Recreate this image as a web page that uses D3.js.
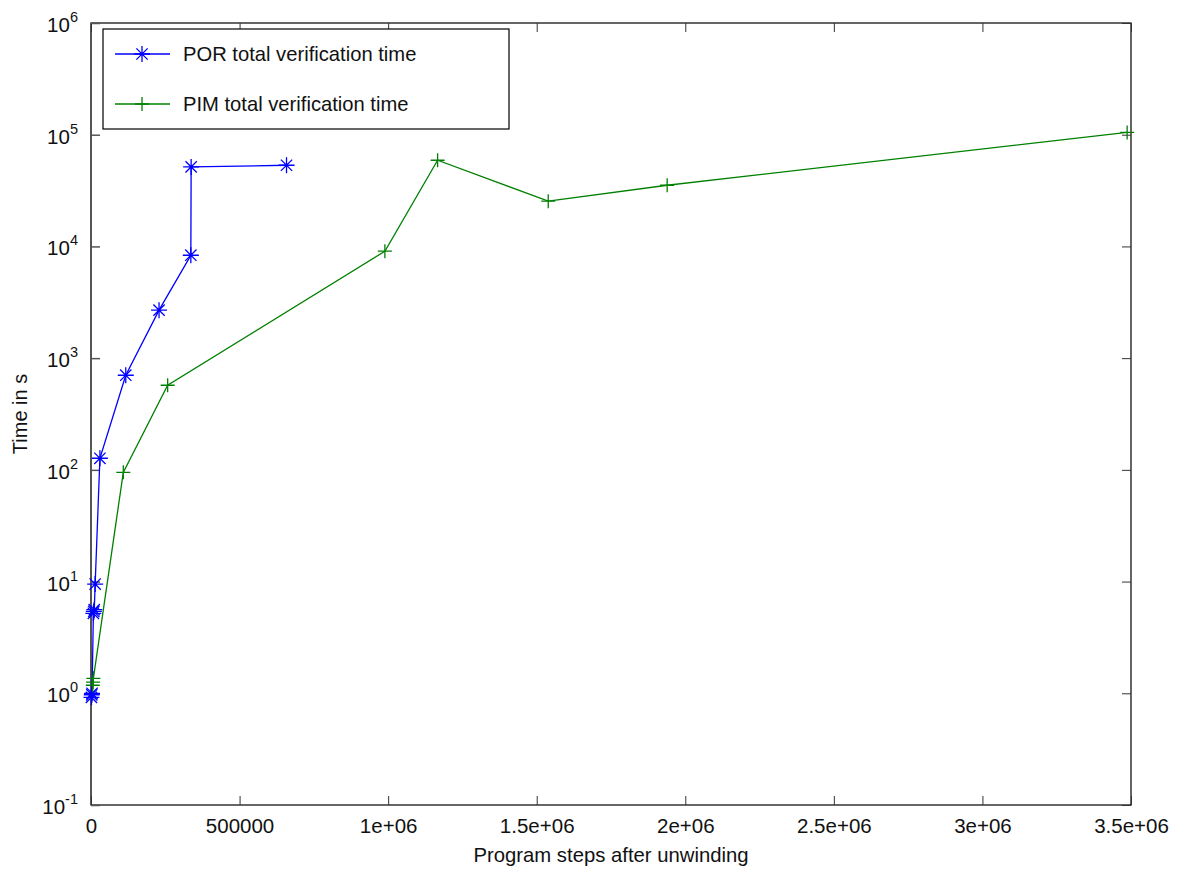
<!DOCTYPE html>
<html>
<head>
<meta charset="utf-8">
<script src="https://cdn.jsdelivr.net/npm/d3@7"></script>
<style>
  html, body { margin: 0; padding: 0; background: #fff; }
  svg { display: block; font-family: "Liberation Sans", Arial, Helvetica, sans-serif; }
</style>
</head>
<body>
<svg id="chart" width="1181" height="872"></svg>
<script>
// Program steps (after unwinding) and total verification time in seconds
const porSteps = [1500, 2500, 3500, 8000, 9500, 11000, 14000, 30000, 117000, 229000, 336000, 337000, 658000];
const porTime  = [0.92, 0.97, 1.0, 5.2, 5.4, 5.6, 9.5, 127, 703, 2690, 8340, 51500, 53300];

const pimSteps = [6000, 7000, 8000, 108700, 258000, 989000, 1166500, 1538800, 1939000, 3487000];
const pimTime  = [1.18, 1.26, 1.36, 95, 572, 9060, 59100, 25400, 35300, 104800];

const xTicks = [0, 500000, 1000000, 1500000, 2000000, 2500000, 3000000, 3500000];
const xTickLabels = ["0", "500000", "1e+06", "1.5e+06", "2e+06", "2.5e+06", "3e+06", "3.5e+06"];
const yExponents = [-1, 0, 1, 2, 3, 4, 5, 6];

const seriesNames = ["POR total verification time", "PIM total verification time"];

const svg = d3.select("#chart");
const plotLeft = 91, plotRight = 1131, plotTop = 23, plotBottom = 805;

const x = d3.scaleLinear().domain([0, 3500000]).range([plotLeft, plotRight]);
const y = d3.scaleLog().domain([0.1, 1e6]).range([plotBottom, plotTop]);

const tickLen = 9;
const fontSize = 20.5;
const textColor = "#111";

// frame
svg.append("rect")
  .attr("x", plotLeft).attr("y", plotTop)
  .attr("width", plotRight - plotLeft).attr("height", plotBottom - plotTop)
  .attr("fill", "none").attr("stroke", "#000").attr("stroke-width", 1.2);
svg.append("line")
  .attr("x1", plotLeft).attr("x2", plotLeft).attr("y1", plotTop).attr("y2", plotBottom)
  .attr("stroke", "#555").attr("stroke-width", 2);

// x ticks (bottom and mirrored top), pointing inward
const xAxisBottom = d3.axisBottom(x).tickValues(xTicks).tickSize(-tickLen).tickFormat((d, i) => xTickLabels[i]);
const gxb = svg.append("g").attr("transform", `translate(0,${plotBottom})`).call(xAxisBottom);
gxb.select(".domain").remove();
gxb.selectAll(".tick line").attr("stroke", "#333");
gxb.selectAll(".tick text")
  .attr("y", 28).attr("dy", 0)
  .attr("font-size", fontSize).attr("fill", textColor)
  .attr("font-family", "Liberation Sans, Arial, sans-serif");

const xAxisTop = d3.axisTop(x).tickValues(xTicks).tickSize(-tickLen).tickFormat("");
const gxt = svg.append("g").attr("transform", `translate(0,${plotTop})`).call(xAxisTop);
gxt.select(".domain").remove();
gxt.selectAll(".tick line").attr("stroke", "#333");

// y ticks (left and mirrored right), pointing inward
const yVals = yExponents.map(e => Math.pow(10, e));
const yAxisLeft = d3.axisLeft(y).tickValues(yVals).tickSize(-tickLen).tickFormat("");
const gyl = svg.append("g").attr("transform", `translate(${plotLeft},0)`).call(yAxisLeft);
gyl.select(".domain").remove();
gyl.selectAll(".tick line").attr("stroke", "#555").attr("stroke-width", 1.5);

const yAxisRight = d3.axisRight(y).tickValues(yVals).tickSize(-tickLen).tickFormat("");
const gyr = svg.append("g").attr("transform", `translate(${plotRight},0)`).call(yAxisRight);
gyr.select(".domain").remove();
gyr.selectAll(".tick line").attr("stroke", "#333");

// y tick labels as 10^n with superscript exponent
const yLab = svg.append("g");
yExponents.forEach(e => {
  const t = yLab.append("text")
    .attr("x", 78).attr("y", y(Math.pow(10, e)) + 9)
    .attr("text-anchor", "end")
    .attr("font-size", fontSize).attr("fill", textColor);
  t.append("tspan").text("10");
  t.append("tspan").attr("dy", -10).attr("font-size", 14.5).text(String(e));
});

// axis titles
svg.append("text")
  .attr("x", (plotLeft + plotRight) / 2).attr("y", 862)
  .attr("text-anchor", "middle")
  .attr("font-size", 20.3).attr("fill", textColor)
  .text("Program steps after unwinding");
svg.append("text")
  .attr("transform", `translate(27,${(plotTop + plotBottom) / 2}) rotate(-90)`)
  .attr("text-anchor", "middle")
  .attr("font-size", 20).attr("fill", textColor)
  .text("Time in s");

// markers
function starPath(r) {
  const d = r * Math.SQRT1_2;
  return `M${-r},0L${r},0M0,${-r}L0,${r}M${-d},${-d}L${d},${d}M${-d},${d}L${d},${-d}`;
}
function plusPath(r) {
  return `M${-r},0L${r},0M0,${-r}L0,${r}`;
}

const series = [
  { steps: porSteps, time: porTime, color: "#0000ff", marker: starPath(8) },
  { steps: pimSteps, time: pimTime, color: "#008000", marker: plusPath(7) }
];

const line = d3.line().x(d => x(d[0])).y(d => y(d[1]));

series.forEach(s => {
  const pts = s.steps.map((v, i) => [v, s.time[i]]);
  svg.append("path")
    .attr("d", line(pts))
    .attr("fill", "none").attr("stroke", s.color).attr("stroke-width", 1.3);
  svg.append("g").selectAll("path").data(pts).join("path")
    .attr("transform", d => `translate(${x(d[0])},${y(d[1])})`)
    .attr("d", s.marker)
    .attr("fill", "none").attr("stroke", s.color).attr("stroke-width", 1.3);
});

// legend
const lg = svg.append("g");
lg.append("rect")
  .attr("x", 103).attr("y", 29).attr("width", 406).attr("height", 100)
  .attr("fill", "#fff").attr("stroke", "#000").attr("stroke-width", 1.2);
[54, 104].forEach((ly, i) => {
  const s = series[i];
  lg.append("line").attr("x1", 115).attr("x2", 170).attr("y1", ly).attr("y2", ly)
    .attr("stroke", s.color).attr("stroke-width", 1.3);
  lg.append("path").attr("transform", `translate(142,${ly})`).attr("d", s.marker)
    .attr("fill", "none").attr("stroke", s.color).attr("stroke-width", 1.3);
  lg.append("text").attr("x", 183).attr("y", ly + 7)
    .attr("font-size", 20.2).attr("fill", textColor)
    .text(seriesNames[i]);
});
</script>
</body>
</html>
